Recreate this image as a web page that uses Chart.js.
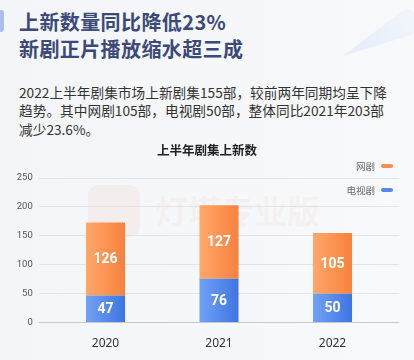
<!DOCTYPE html>
<html>
<head>
<meta charset="utf-8">
<script src="https://cdn.jsdelivr.net/npm/chart.js@4"></script>
<style>
html, body { margin: 0; padding: 0; }
body {
	width: 414px; height: 360px; overflow: hidden; position: relative;
	background: linear-gradient(90deg, #f3f5f8, #f8f9fb);
	font-family: "Noto Sans CJK SC", "Noto Sans", sans-serif;
}
.accent { position: absolute; left: 0; top: 10px; width: 4px; height: 22px; background: #a9bff0; border-radius: 0 3px 3px 0; }
.plane {
	position: absolute; left: 0; top: 0; width: 414px; height: 70px;
	background: linear-gradient(45deg, rgba(170,205,240,0.85), rgba(230,240,250,0.3));
	clip-path: polygon(343px 56px, 406px 8px, 414px 12px, 414px 34px);
}
h1 { position: absolute; left: 19px; top: 8px; margin: 0; font-size: 20px; line-height: 27px; color: #3b4a78; font-weight: bold; white-space: nowrap; letter-spacing: 0.4px; }
.desc { position: absolute; left: 19px; top: 83px; margin: 0; font-size: 13.7px; line-height: 18.3px; color: #333; white-space: nowrap; }
.mark { position: absolute; left: 155px; top: 186px; font-size: 33px; font-weight: bold; color: rgba(245,130,100,0.07); white-space: nowrap; }
.logo { position: absolute; left: 88px; top: 185px; width: 52px; height: 52px; border-radius: 10px; background: rgba(245,130,100,0.07); }
.wrap { position: absolute; left: 0; top: 140px; width: 414px; height: 220px; }
</style>
</head>
<body>
<div class="accent"></div>
<div class="plane"></div>
<h1>上新数量同比降低23%<br>新剧正片播放缩水超三成</h1>
<p class="desc">2022上半年剧集市场上新剧集155部，较前两年同期均呈下降<br>趋势。其中网剧105部，电视剧50部，整体同比2021年203部<br>减少23.6%。</p>
<div class="logo"></div>
<div class="mark">灯塔专业版</div>
<div class="wrap"><canvas id="chart"></canvas></div>
<script>
"use strict";

const years = ['2020', '2021', '2022']
const tvSeries = [47, 76, 50]        // 电视剧
const webSeries = [126, 127, 105]    // 网剧
const seriesNames = ['电视剧', '网剧']
const chartTitle = '上半年剧集上新数'
const yMax = 250
const yStep = 50

const gridColor = (c) => (c.tick && c.tick.value === 0) ? '#c8c8c8' : '#e3e4e6'

// horizontal gradient across each bar
function barGradient(from, to) {
	return (c) => {
		const chart = c.chart
		const x = chart.scales.x
		if (!x || c.dataIndex === undefined) return to
		const mid = x.getPixelForValue(c.dataIndex)
		if (!isFinite(mid)) return to
		const g = chart.ctx.createLinearGradient(mid - 20, 0, mid + 20, 0)
		g.addColorStop(0, from)
		g.addColorStop(1, to)
		return g
	}
}

const valueLabels = {
	id: 'valueLabels',
	afterDatasetsDraw(chart) {
		const ctx = chart.ctx
		ctx.save()
		ctx.font = 'bold 14px Roboto'
		ctx.fillStyle = '#ffffff'
		ctx.textAlign = 'center'
		ctx.textBaseline = 'middle'
		chart.data.datasets.forEach((ds, i) => {
			chart.getDatasetMeta(i).data.forEach((bar, j) => {
				const p = bar.getCenterPoint()
				ctx.fillText(ds.data[j], p.x, p.y + 1)
			})
		})
		ctx.restore()
	}
}

// legend sits inside the plot, text left of the swatch
const sideLegend = {
	id: 'sideLegend',
	afterDraw(chart) {
		const ctx = chart.ctx
		const right = chart.width - 21
		const items = chart.data.datasets.slice().reverse()
		ctx.save()
		ctx.font = '9.5px "Noto Sans CJK SC"'
		ctx.textAlign = 'right'
		ctx.textBaseline = 'middle'
		items.forEach((ds, k) => {
			const y = 26 + k * 24
			ctx.fillStyle = ds.legendColor
			ctx.beginPath()
			ctx.roundRect(right - 12, y - 2, 12, 4, 2)
			ctx.fill()
			ctx.fillStyle = '#666'
			ctx.fillText(ds.label, right - 18, y)
		})
		ctx.restore()
	}
}

new Chart(document.getElementById('chart'), {
	type: 'bar',
	data: {
		labels: years,
		datasets: [{
			label: seriesNames[0],
			data: tvSeries,
			legendColor: '#5588ea',
			backgroundColor: barGradient('#72a2f6', '#3d74e2')
		}, {
			label: seriesNames[1],
			data: webSeries,
			legendColor: '#f39052',
			backgroundColor: barGradient('#ffa86c', '#f7813c')
		}]
	},
	options: {
		responsive: true,
		maintainAspectRatio: false,
		animation: false,
		layout: { padding: { bottom: 3 } },
		datasets: { bar: { categoryPercentage: 1, barPercentage: 0.344 } },
		plugins: {
			legend: { display: false },
			tooltip: { enabled: false },
			title: {
				display: true,
				text: chartTitle,
				color: '#222',
				font: { size: 12.5, weight: 'bold', family: '"Noto Sans CJK SC"' },
				padding: { top: 3, bottom: 20 }
			}
		},
		scales: {
			x: {
				stacked: true,
				grid: { display: false },
				border: { display: false },
				ticks: { color: '#333', padding: 6, font: { size: 12, family: '"Noto Sans"' } }
			},
			y: {
				stacked: true,
				min: 0,
				max: yMax,
				ticks: { stepSize: yStep, padding: 6, color: '#555', font: { size: 9.5, family: 'Roboto' } },
				grid: { color: gridColor, tickLength: 10 },
				border: { display: false },
				afterFit(scale) { scale.width = 48.75 }
			},
			y2: {
				position: 'right',
				min: 0,
				max: yMax,
				ticks: { display: false, stepSize: yStep },
				grid: { drawOnChartArea: false, color: gridColor, tickLength: 10 },
				border: { display: false },
				afterFit(scale) { scale.width = 24.75 }
			}
		}
	},
	plugins: [valueLabels, sideLegend]
})
</script>
</body>
</html>
